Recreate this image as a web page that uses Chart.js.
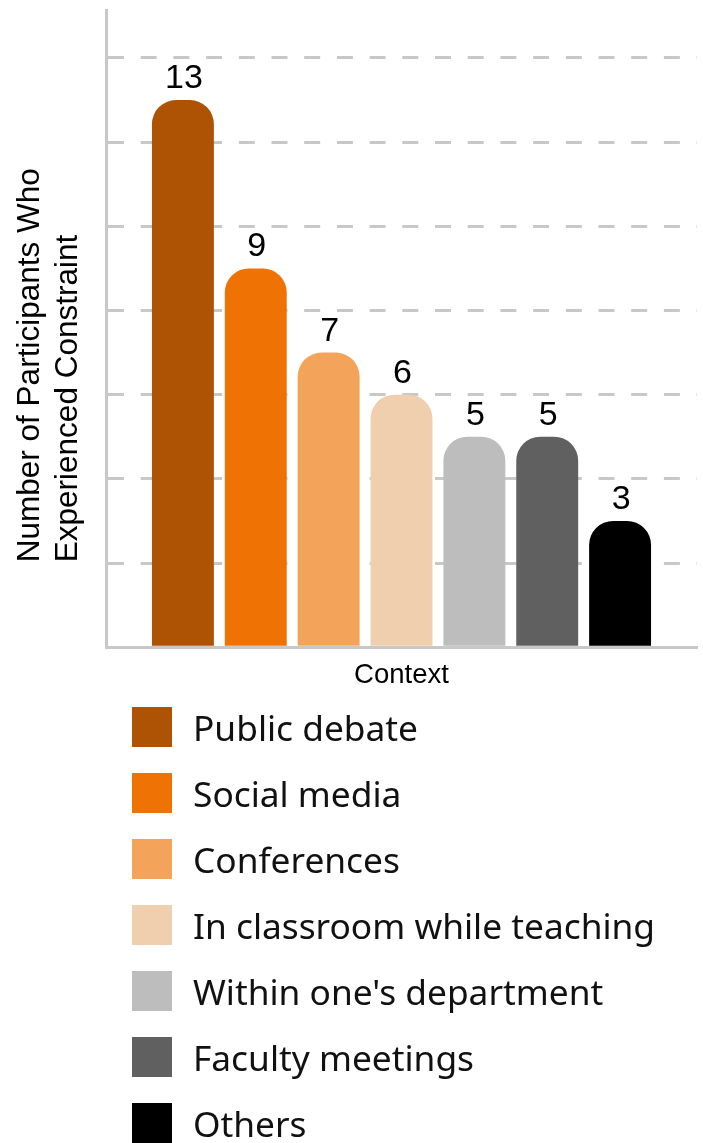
<!DOCTYPE html>
<html>
<head>
<meta charset="utf-8">
<script src="https://cdn.jsdelivr.net/npm/chart.js@4/dist/chart.umd.min.js"></script>
<style>
  html, body { margin: 0; padding: 0; background: #ffffff; }
  #wrap { position: relative; width: 703px; height: 1143px; overflow: hidden; }
  #plot { position: absolute; left: 0; top: 0; width: 703px; height: 700px; }
  #legend { position: absolute; left: 0; top: 694px; margin: 0; padding: 0; list-style: none; }
  #legend li { display: flex; align-items: center; height: 66px; padding-left: 132px;
               font-family: "Noto Sans", sans-serif; font-size: 35.3px; color: #111111; white-space: nowrap; }
  #legend li span.box { display: inline-block; width: 40px; height: 40px; margin-right: 21px; flex: none; }
</style>
</head>
<body>
<div id="wrap">
  <div id="plot"><canvas id="chart"></canvas></div>
  <ul id="legend"></ul>
</div>
<script>
// Contexts in which participants experienced constraint
const contexts = [
  "Public debate",
  "Social media",
  "Conferences",
  "In classroom while teaching",
  "Within one's department",
  "Faculty meetings",
  "Others"
];
const participants = [13, 9, 7, 6, 5, 5, 3];
const barColors = ["#AE5203", "#EE7304", "#F4A45A", "#F0CFAE", "#BDBDBD", "#606060", "#000000"];
const xTitle = "Context";
const yTitleLines = ["Number of Participants Who", "Experienced Constraint"];
const yMax = 15.14;
const yStep = 2;

// Count printed above each bar
const valueLabels = {
  id: "valueLabels",
  afterDatasetsDraw(chart) {
    const ctx = chart.ctx;
    ctx.save();
    ctx.font = '34px "Liberation Sans", Arial, sans-serif';
    ctx.fillStyle = "#000000";
    ctx.textAlign = "center";
    ctx.textBaseline = "alphabetic";
    chart.data.datasets.forEach((ds, i) => {
      const meta = chart.getDatasetMeta(i);
      meta.data.forEach((bar, j) => {
        ctx.fillText(String(ds.data[j]), bar.x + 1, bar.y - 12);
      });
    });
    ctx.restore();
  }
};

// Two-line vertical axis title, lines aligned at their start
const sideTitle = {
  id: "sideTitle",
  afterDraw(chart) {
    const ctx = chart.ctx;
    const area = chart.chartArea;
    ctx.save();
    ctx.font = '31.5px "Liberation Sans", Arial, sans-serif';
    ctx.fillStyle = "#000000";
    ctx.textAlign = "left";
    ctx.textBaseline = "alphabetic";
    const startY = area.bottom - 85;
    yTitleLines.forEach((line, k) => {
      ctx.save();
      ctx.translate(39 + k * 38, startY);
      ctx.rotate(-Math.PI / 2);
      ctx.fillText(line, 0, 0);
      ctx.restore();
    });
    ctx.restore();
  }
};

// Legend list built from the chart's own legend items
const htmlLegend = {
  id: "htmlLegend",
  afterUpdate(chart) {
    const list = document.getElementById("legend");
    list.innerHTML = "";
    const items = chart.options.plugins.legend.labels.generateLabels(chart);
    items.forEach(item => {
      const li = document.createElement("li");
      const box = document.createElement("span");
      box.className = "box";
      box.style.background = item.fillStyle;
      const txt = document.createElement("span");
      txt.textContent = item.text;
      li.appendChild(box);
      li.appendChild(txt);
      list.appendChild(li);
    });
  }
};

const datasets = contexts.map((name, i) => ({
  label: name,
  data: [participants[i]],
  backgroundColor: barColors[i],
  borderWidth: 0,
  borderRadius: { topLeft: 24, topRight: 24, bottomLeft: 0, bottomRight: 0 },
  borderSkipped: false,
  categoryPercentage: 0.863,
  barPercentage: 0.85
}));

new Chart(document.getElementById("chart"), {
  type: "bar",
  data: { labels: [""], datasets },
  options: {
    responsive: true,
    maintainAspectRatio: false,
    animation: false,
    layout: { padding: { left: 106, right: 6, top: 10, bottom: 7.8 } },
    plugins: {
      legend: { display: false },
      tooltip: { enabled: false }
    },
    scales: {
      x: {
        grid: { display: false, drawTicks: false },
        border: { display: true, color: "#c8c8c8", width: 3 },
        ticks: { display: false },
        title: {
          display: true,
          text: xTitle,
          color: "#000000",
          font: { family: '"Liberation Sans", Arial, sans-serif', size: 27.5 },
          padding: { top: 12, bottom: 0 }
        }
      },
      y: {
        min: 0,
        max: yMax,
        ticks: { display: false, stepSize: yStep },
        afterBuildTicks(scale) {
          scale.ticks = scale.ticks.filter(t => t.value % yStep === 0);
        },
        grid: {
          drawTicks: false,
          color: ctx => (ctx.tick && ctx.tick.value === 0 ? "rgba(0,0,0,0)" : "#c8c8c8"),
          lineWidth: 3
        },
        border: { display: true, color: "#c8c8c8", width: 3, dash: [16, 16.7] }
      }
    }
  },
  plugins: [valueLabels, sideTitle, htmlLegend]
});
</script>
</body>
</html>
